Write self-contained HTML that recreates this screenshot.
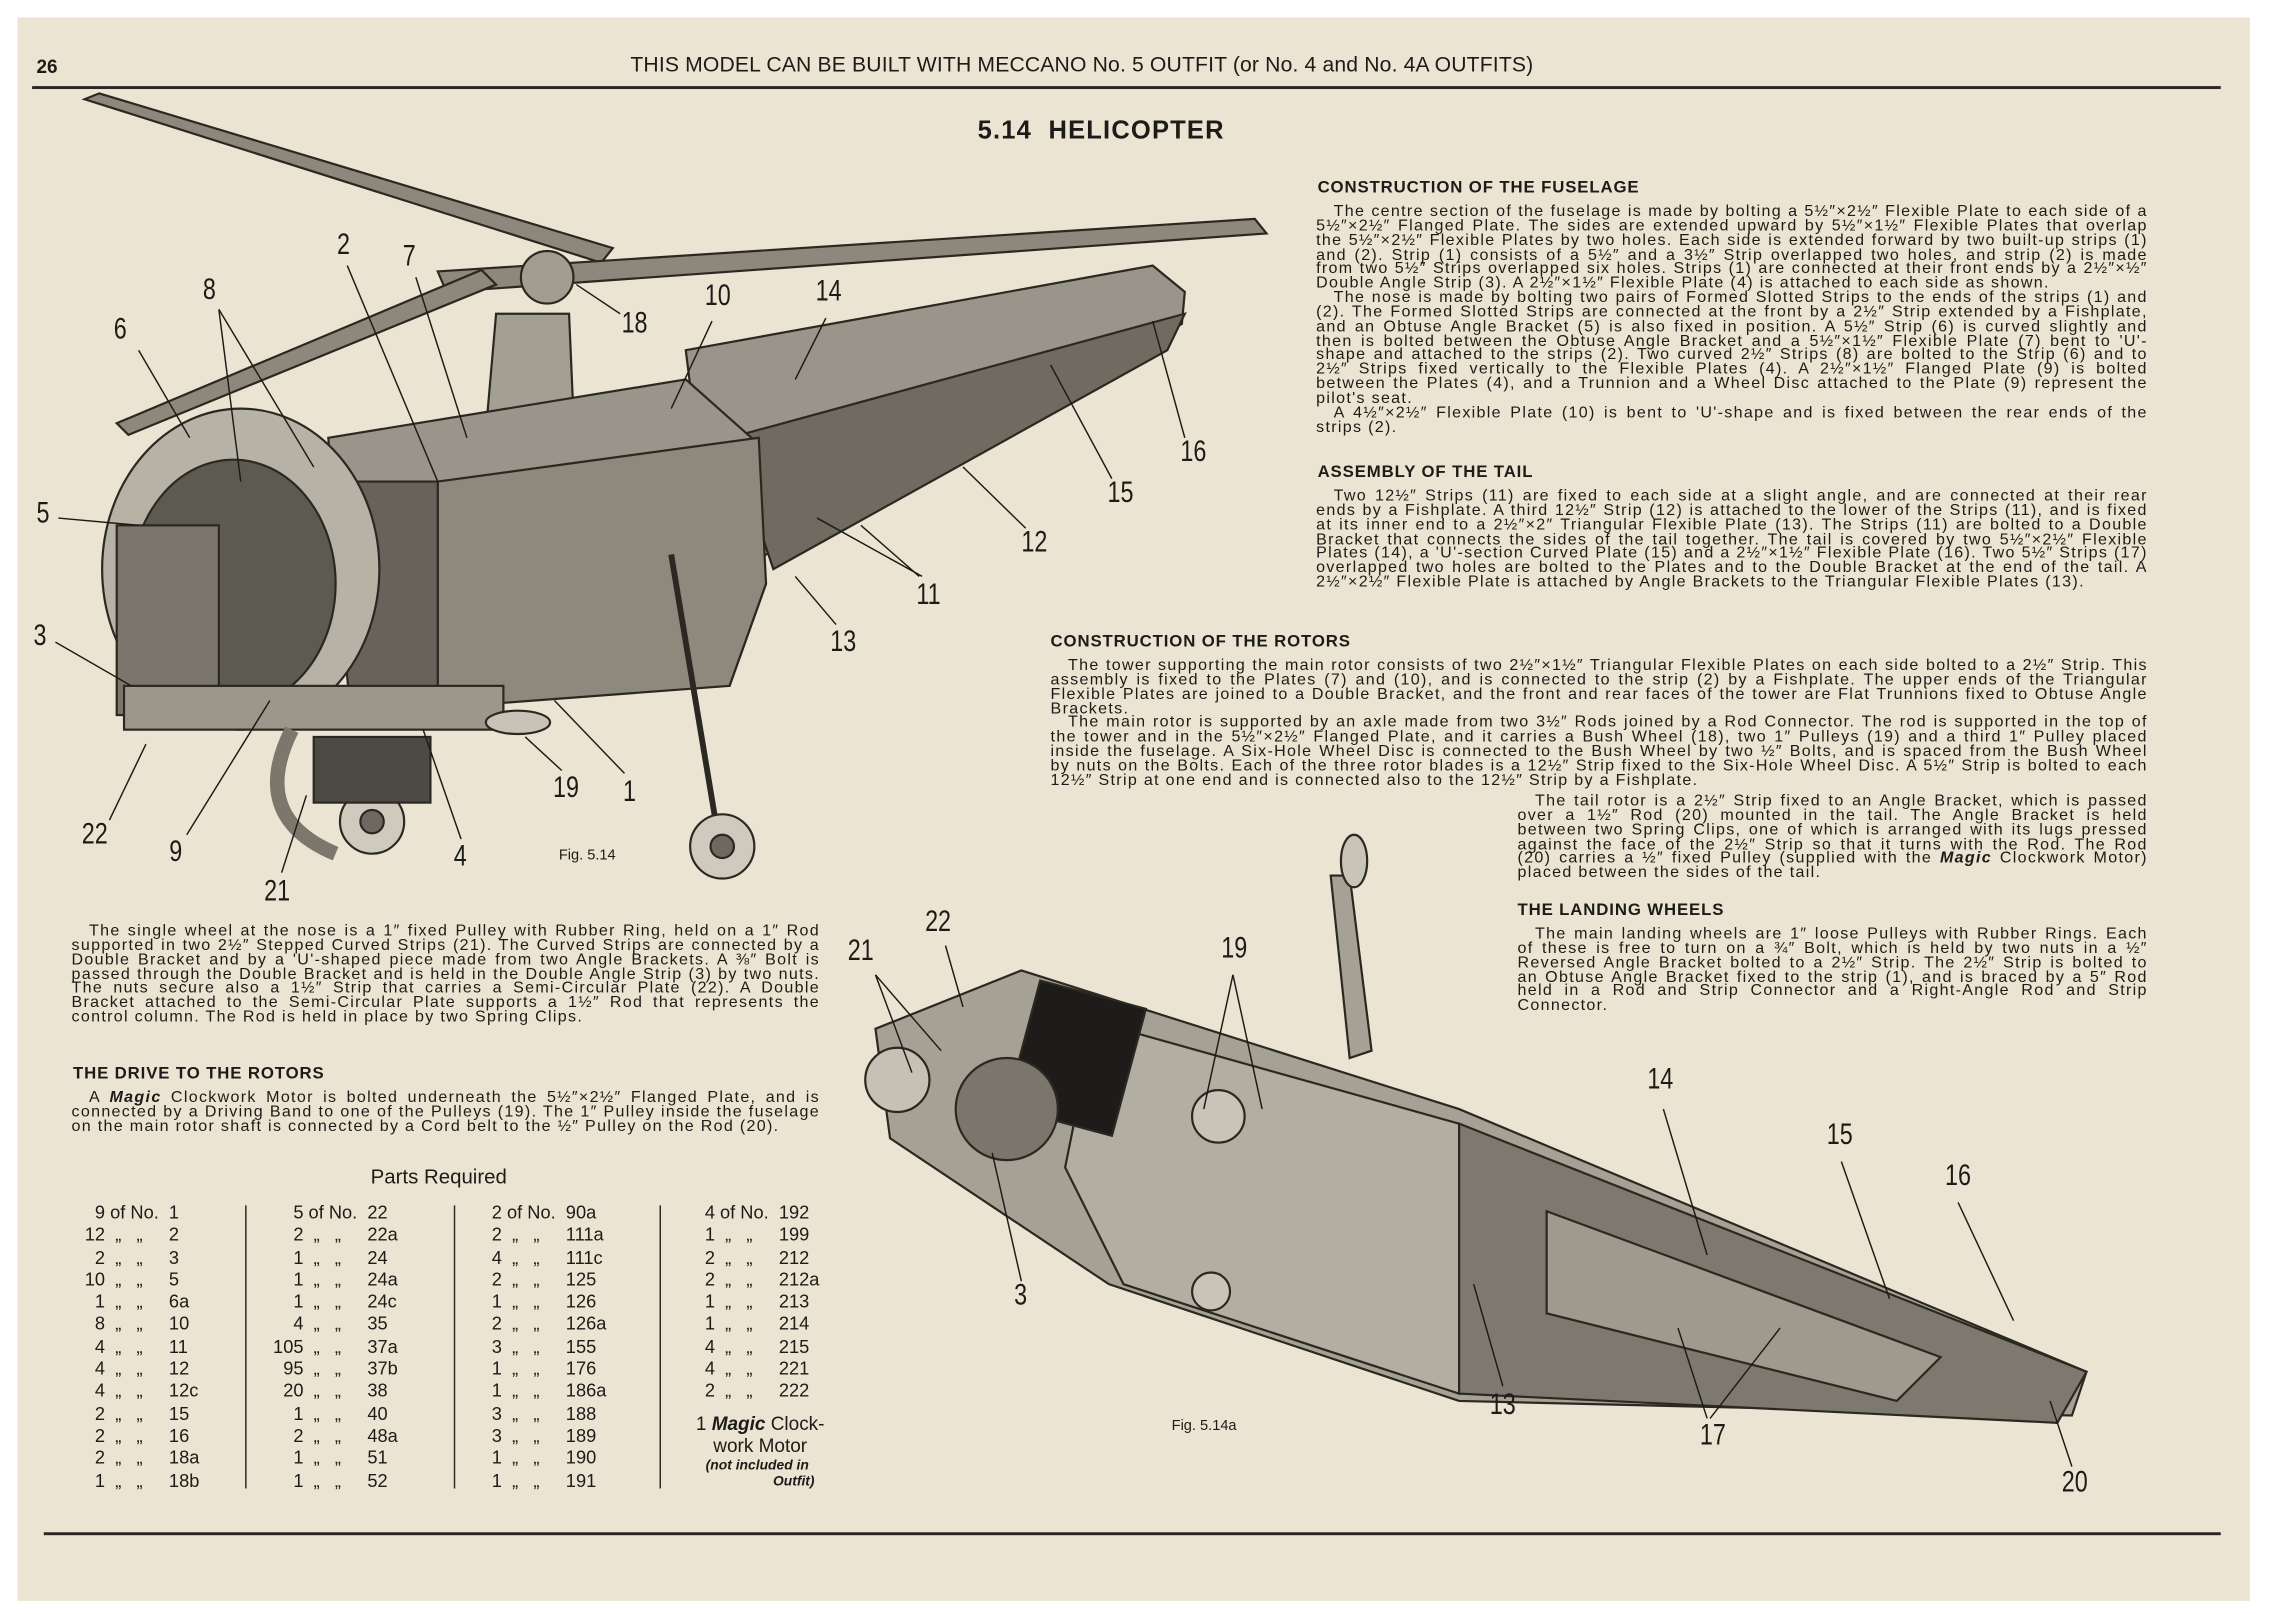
<!DOCTYPE html>
<html><head><meta charset="utf-8">
<style>
html,body{margin:0;padding:0;background:#fff;}
body{width:2282px;height:1614px;overflow:hidden;position:relative;}
#pg{position:absolute;left:0;top:0;width:1564px;height:1106px;transform:scale(1.4591,1.4593);transform-origin:0 0;font-family:"Liberation Sans",sans-serif;color:#1d1b18;}
#paper{position:absolute;left:12px;top:12px;width:1530px;height:1085px;background:#ebe4d2;}
.a{position:absolute;}
.p{position:absolute;font-size:11px;line-height:9.85px;text-align:justify;letter-spacing:0.9px;font-family:"Liberation Sans",sans-serif;}
.p p{margin:0;text-indent:12px;}
.h{position:absolute;font-weight:bold;font-size:11.5px;letter-spacing:0.6px;}
.n{position:absolute;font-size:20px;transform:scaleX(0.8);transform-origin:0 0;line-height:20px;}
table{border-collapse:collapse;font-size:12.5px;}
td{padding:0;height:15.3px;line-height:15.3px;white-space:nowrap;}
.col{position:absolute;top:824px;}
</style>
</head><body>
<div id="pg">
<div id="paper"></div>
<div class="a" style="left:25px;top:38px;font-size:13px;font-weight:bold;">26</div>
<div class="a" style="left:432px;top:37px;font-size:14.5px;letter-spacing:0.1px;">THIS MODEL CAN BE BUILT WITH MECCANO No. 5 OUTFIT (or No. 4 and No. 4A OUTFITS)</div>
<div class="a" style="left:22px;top:59px;width:1500px;height:2px;background:#2a2622;"></div>
<div class="a" style="left:30px;top:1050px;width:1492px;height:2px;background:#2a2622;"></div>
<div class="a" style="left:670px;top:79px;font-size:17.5px;font-weight:bold;letter-spacing:0.8px;">5.14&nbsp; HELICOPTER</div>

<svg class="a" style="left:0;top:0" width="1564" height="1106" viewBox="0 0 1564 1106">
<g stroke="#2b2822" stroke-width="1.5" fill="#8d887b">
<polygon points="58,68 68,64 420,170 412,180"/>
<polygon points="300,186 860,150 868,160 306,200"/>
<polygon points="88,298 80,290 330,185 340,195"/>
<circle cx="375" cy="190" r="18" fill="#a29d90"/>
<polygon points="470,240 790,182 812,200 810,222 560,360 490,400" fill="#9a958a"/>
<polygon points="500,300 812,215 800,240 530,390" fill="#6f6b61"/>
<polygon points="340,215 390,215 395,330 330,330" fill="#a49f93"/>
<polygon points="225,300 470,260 515,300 525,400 500,470 420,470 240,485" fill="#9a958a"/>
<polygon points="300,330 520,300 525,400 500,470 300,485" fill="#8e897d"/>
<polygon points="225,330 300,330 300,485 240,485" fill="#67635a"/>
<ellipse cx="165" cy="390" rx="95" ry="110" fill="#b7b2a6"/>
<ellipse cx="160" cy="400" rx="70" ry="85" fill="#5d5a52"/>
<rect x="80" y="360" width="70" height="130" fill="#7a766c"/>
<rect x="85" y="470" width="260" height="30" fill="#9c978b"/>
<line x1="460" y1="380" x2="490" y2="560" stroke-width="4"/>
<circle cx="495" cy="580" r="22" fill="#cfcabe"/>
<circle cx="495" cy="580" r="8" fill="#6d6960"/>
<circle cx="255" cy="563" r="22" fill="#cfcabe"/>
<circle cx="255" cy="563" r="8" fill="#6d6960"/>
<path d="M200,500 Q170,560 230,585" fill="none" stroke-width="10" stroke="#7b776d"/>
<ellipse cx="355" cy="495" rx="22" ry="8" fill="#c8c3b6"/>
<rect x="215" y="505" width="80" height="45" fill="#4d4a44"/>
</g>
<g stroke="#2b2822" stroke-width="1.5" fill="#8d887b">
<polygon points="600,705 700,665 1000,760 1430,940 1420,970 1000,960 760,880 610,780" fill="#a6a195"/>
<polygon points="750,700 1000,770 1000,955 770,880 730,800" style="fill:#b3aea2"/>
<polygon points="1000,770 1430,940 1410,975 1000,955" fill="#7d796f"/>
<polygon points="1060,830 1330,930 1300,960 1060,900" fill="#9f9a8e"/>
<rect x="700" y="680" width="75" height="90" fill="#1d1c1a" transform="rotate(15 737 725)"/>
<circle cx="835" cy="765" r="18" fill="#c9c4b8"/>
<circle cx="830" cy="885" r="13" fill="#c9c4b8"/>
<circle cx="615" cy="740" r="22" fill="#c6c1b5"/>
<circle cx="690" cy="760" r="35" fill="#7a766c"/>
<polygon points="912,600 925,600 940,720 925,725" fill="#a6a195"/>
<ellipse cx="928" cy="590" rx="9" ry="18" fill="#c9c4b8"/>
</g>
<g stroke="#1d1b18" stroke-width="1" fill="none">
<line x1="238" y1="182" x2="300" y2="330"/><line x1="285" y1="190" x2="320" y2="300"/>
<line x1="150" y1="212" x2="165" y2="330"/><line x1="150" y1="212" x2="215" y2="320"/>
<line x1="95" y1="240" x2="130" y2="300"/><line x1="425" y1="215" x2="395" y2="195"/>
<line x1="488" y1="220" x2="460" y2="280"/><line x1="566" y1="218" x2="545" y2="260"/>
<line x1="812" y1="300" x2="790" y2="220"/><line x1="762" y1="328" x2="720" y2="250"/>
<line x1="703" y1="362" x2="660" y2="320"/><line x1="630" y1="395" x2="590" y2="360"/>
<line x1="632" y1="395" x2="560" y2="355"/><line x1="573" y1="428" x2="545" y2="395"/>
<line x1="40" y1="355" x2="95" y2="360"/><line x1="38" y1="440" x2="90" y2="470"/>
<line x1="75" y1="562" x2="100" y2="510"/><line x1="128" y1="572" x2="185" y2="480"/>
<line x1="193" y1="598" x2="210" y2="545"/><line x1="316" y1="575" x2="290" y2="500"/>
<line x1="385" y1="528" x2="360" y2="505"/><line x1="428" y1="530" x2="380" y2="480"/>
<line x1="600" y1="668" x2="625" y2="735"/><line x1="600" y1="668" x2="645" y2="720"/>
<line x1="648" y1="648" x2="660" y2="690"/><line x1="845" y1="668" x2="825" y2="760"/>
<line x1="845" y1="668" x2="865" y2="760"/><line x1="1140" y1="760" x2="1170" y2="860"/>
<line x1="1262" y1="796" x2="1295" y2="890"/><line x1="1342" y1="824" x2="1380" y2="905"/>
<line x1="700" y1="878" x2="680" y2="790"/><line x1="1030" y1="950" x2="1010" y2="880"/>
<line x1="1170" y1="972" x2="1150" y2="910"/><line x1="1172" y1="972" x2="1220" y2="910"/>
<line x1="1420" y1="1005" x2="1405" y2="960"/>
</g>
</svg>

<div class="n" style="left:231px;top:158px">2</div><div class="n" style="left:276px;top:166px">7</div>
<div class="n" style="left:139px;top:189px">8</div><div class="n" style="left:78px;top:216px">6</div>
<div class="n" style="left:426px;top:212px">18</div><div class="n" style="left:483px;top:193px">10</div>
<div class="n" style="left:559px;top:190px">14</div><div class="n" style="left:809px;top:300px">16</div>
<div class="n" style="left:759px;top:328px">15</div><div class="n" style="left:700px;top:362px">12</div>
<div class="n" style="left:628px;top:398px">11</div><div class="n" style="left:569px;top:430px">13</div>
<div class="n" style="left:25px;top:342px">5</div><div class="n" style="left:23px;top:426px">3</div>
<div class="n" style="left:56px;top:562px">22</div><div class="n" style="left:116px;top:574px">9</div>
<div class="n" style="left:181px;top:601px">21</div><div class="n" style="left:311px;top:577px">4</div>
<div class="n" style="left:379px;top:530px">19</div><div class="n" style="left:427px;top:533px">1</div>
<div class="a" style="left:383px;top:581px;font-size:10px;">Fig. 5.14</div>
<div class="n" style="left:634px;top:622px">22</div><div class="n" style="left:581px;top:642px">21</div>
<div class="n" style="left:837px;top:640px">19</div><div class="n" style="left:1129px;top:730px">14</div>
<div class="n" style="left:1252px;top:768px">15</div><div class="n" style="left:1333px;top:796px">16</div>
<div class="n" style="left:695px;top:878px">3</div><div class="n" style="left:1021px;top:953px">13</div>
<div class="n" style="left:1165px;top:974px">17</div><div class="n" style="left:1413px;top:1006px">20</div>
<div class="a" style="left:803px;top:972px;font-size:10px;">Fig. 5.14a</div>

<div class="h" style="left:903px;top:123px">CONSTRUCTION OF THE FUSELAGE</div>
<div class="p" style="left:902px;top:141px;width:570px">
<p>The centre section of the fuselage is made by bolting a 5½″×2½″ Flexible Plate to each side of a 5½″×2½″ Flanged Plate. The sides are extended upward by 5½″×1½″ Flexible Plates that overlap the 5½″×2½″ Flexible Plates by two holes. Each side is extended forward by two built-up strips (1) and (2). Strip (1) consists of a 5½″ and a 3½″ Strip overlapped two holes, and strip (2) is made from two 5½″ Strips overlapped six holes. Strips (1) are connected at their front ends by a 2½″×½″ Double Angle Strip (3). A 2½″×1½″ Flexible Plate (4) is attached to each side as shown.</p>
<p>The nose is made by bolting two pairs of Formed Slotted Strips to the ends of the strips (1) and (2). The Formed Slotted Strips are connected at the front by a 2½″ Strip extended by a Fishplate, and an Obtuse Angle Bracket (5) is also fixed in position. A 5½″ Strip (6) is curved slightly and then is bolted between the Obtuse Angle Bracket and a 5½″×1½″ Flexible Plate (7) bent to 'U'-shape and attached to the strips (2). Two curved 2½″ Strips (8) are bolted to the Strip (6) and to 2½″ Strips fixed vertically to the Flexible Plates (4). A 2½″×1½″ Flanged Plate (9) is bolted between the Plates (4), and a Trunnion and a Wheel Disc attached to the Plate (9) represent the pilot's seat.</p>
<p>A 4½″×2½″ Flexible Plate (10) is bent to 'U'-shape and is fixed between the rear ends of the strips (2).</p></div>

<div class="h" style="left:903px;top:318px">ASSEMBLY OF THE TAIL</div>
<div class="p" style="left:902px;top:336px;width:570px">
<p>Two 12½″ Strips (11) are fixed to each side at a slight angle, and are connected at their rear ends by a Fishplate. A third 12½″ Strip (12) is attached to the lower of the Strips (11), and is fixed at its inner end to a 2½″×2″ Triangular Flexible Plate (13). The Strips (11) are bolted to a Double Bracket that connects the sides of the tail together. The tail is covered by two 5½″×2½″ Flexible Plates (14), a 'U'-section Curved Plate (15) and a 2½″×1½″ Flexible Plate (16). Two 5½″ Strips (17) overlapped two holes are bolted to the Plates and to the Double Bracket at the end of the tail. A 2½″×2½″ Flexible Plate is attached by Angle Brackets to the Triangular Flexible Plates (13).</p></div>

<div class="h" style="left:720px;top:434px">CONSTRUCTION OF THE ROTORS</div>
<div class="p" style="left:720px;top:452px;width:752px">
<p>The tower supporting the main rotor consists of two 2½″×1½″ Triangular Flexible Plates on each side bolted to a 2½″ Strip. This assembly is fixed to the Plates (7) and (10), and is connected to the strip (2) by a Fishplate. The upper ends of the Triangular Flexible Plates are joined to a Double Bracket, and the front and rear faces of the tower are Flat Trunnions fixed to Obtuse Angle Brackets.</p>
<p>The main rotor is supported by an axle made from two 3½″ Rods joined by a Rod Connector. The rod is supported in the top of the tower and in the 5½″×2½″ Flanged Plate, and it carries a Bush Wheel (18), two 1″ Pulleys (19) and a third 1″ Pulley placed inside the fuselage. A Six-Hole Wheel Disc is connected to the Bush Wheel by two ½″ Bolts, and is spaced from the Bush Wheel by nuts on the Bolts. Each of the three rotor blades is a 12½″ Strip fixed to the Six-Hole Wheel Disc. A 5½″ Strip is bolted to each 12½″ Strip at one end and is connected also to the 12½″ Strip by a Fishplate.</p></div>
<div class="p" style="left:1040px;top:545px;width:432px">
<p>The tail rotor is a 2½″ Strip fixed to an Angle Bracket, which is passed over a 1½″ Rod (20) mounted in the tail. The Angle Bracket is held between two Spring Clips, one of which is arranged with its lugs pressed against the face of the 2½″ Strip so that it turns with the Rod. The Rod (20) carries a ½″ fixed Pulley (supplied with the <b><i>Magic</i></b> Clockwork Motor) placed between the sides of the tail.</p></div>

<div class="h" style="left:1040px;top:618px">THE LANDING WHEELS</div>
<div class="p" style="left:1040px;top:636px;width:432px">
<p>The main landing wheels are 1″ loose Pulleys with Rubber Rings. Each of these is free to turn on a ¾″ Bolt, which is held by two nuts in a ½″ Reversed Angle Bracket bolted to a 2½″ Strip. The 2½″ Strip is bolted to an Obtuse Angle Bracket fixed to the strip (1), and is braced by a 5″ Rod held in a Rod and Strip Connector and a Right-Angle Rod and Strip Connector.</p></div>

<div class="p" style="left:49px;top:634px;width:513px">
<p>The single wheel at the nose is a 1″ fixed Pulley with Rubber Ring, held on a 1″ Rod supported in two 2½″ Stepped Curved Strips (21). The Curved Strips are connected by a Double Bracket and by a 'U'-shaped piece made from two Angle Brackets. A ⅜″ Bolt is passed through the Double Bracket and is held in the Double Angle Strip (3) by two nuts. The nuts secure also a 1½″ Strip that carries a Semi-Circular Plate (22). A Double Bracket attached to the Semi-Circular Plate supports a 1½″ Rod that represents the control column. The Rod is held in place by two Spring Clips.</p></div>

<div class="h" style="left:50px;top:730px">THE DRIVE TO THE ROTORS</div>
<div class="p" style="left:49px;top:748px;width:513px">
<p>A <b><i>Magic</i></b> Clockwork Motor is bolted underneath the 5½″×2½″ Flanged Plate, and is connected by a Driving Band to one of the Pulleys (19). The 1″ Pulley inside the fuselage on the main rotor shaft is connected by a Cord belt to the ½″ Pulley on the Rod (20).</p></div>

<div class="a" style="left:254px;top:798px;font-size:14px;">Parts Required</div>
<div class="a" style="left:168px;top:826px;width:1px;height:194px;background:#2a2622"></div>
<div class="a" style="left:311px;top:826px;width:1px;height:194px;background:#2a2622"></div>
<div class="a" style="left:452px;top:826px;width:1px;height:194px;background:#2a2622"></div>
<div class="col" style="left:52px"><table>
<tr><td style="width:20px;text-align:right">9</td><td>&nbsp;of No.&nbsp;&nbsp;</td><td>1</td></tr>
<tr><td style="text-align:right">12</td><td>&nbsp;&nbsp;„&nbsp;&nbsp;&nbsp;„</td><td>2</td></tr>
<tr><td style="text-align:right">2</td><td>&nbsp;&nbsp;„&nbsp;&nbsp;&nbsp;„</td><td>3</td></tr>
<tr><td style="text-align:right">10</td><td>&nbsp;&nbsp;„&nbsp;&nbsp;&nbsp;„</td><td>5</td></tr>
<tr><td style="text-align:right">1</td><td>&nbsp;&nbsp;„&nbsp;&nbsp;&nbsp;„</td><td>6a</td></tr>
<tr><td style="text-align:right">8</td><td>&nbsp;&nbsp;„&nbsp;&nbsp;&nbsp;„</td><td>10</td></tr>
<tr><td style="text-align:right">4</td><td>&nbsp;&nbsp;„&nbsp;&nbsp;&nbsp;„</td><td>11</td></tr>
<tr><td style="text-align:right">4</td><td>&nbsp;&nbsp;„&nbsp;&nbsp;&nbsp;„</td><td>12</td></tr>
<tr><td style="text-align:right">4</td><td>&nbsp;&nbsp;„&nbsp;&nbsp;&nbsp;„</td><td>12c</td></tr>
<tr><td style="text-align:right">2</td><td>&nbsp;&nbsp;„&nbsp;&nbsp;&nbsp;„</td><td>15</td></tr>
<tr><td style="text-align:right">2</td><td>&nbsp;&nbsp;„&nbsp;&nbsp;&nbsp;„</td><td>16</td></tr>
<tr><td style="text-align:right">2</td><td>&nbsp;&nbsp;„&nbsp;&nbsp;&nbsp;„</td><td>18a</td></tr>
<tr><td style="text-align:right">1</td><td>&nbsp;&nbsp;„&nbsp;&nbsp;&nbsp;„</td><td>18b</td></tr></table></div>
<div class="col" style="left:182px"><table>
<tr><td style="width:26px;text-align:right">5</td><td>&nbsp;of No.&nbsp;&nbsp;</td><td>22</td></tr>
<tr><td style="text-align:right">2</td><td>&nbsp;&nbsp;„&nbsp;&nbsp;&nbsp;„</td><td>22a</td></tr>
<tr><td style="text-align:right">1</td><td>&nbsp;&nbsp;„&nbsp;&nbsp;&nbsp;„</td><td>24</td></tr>
<tr><td style="text-align:right">1</td><td>&nbsp;&nbsp;„&nbsp;&nbsp;&nbsp;„</td><td>24a</td></tr>
<tr><td style="text-align:right">1</td><td>&nbsp;&nbsp;„&nbsp;&nbsp;&nbsp;„</td><td>24c</td></tr>
<tr><td style="text-align:right">4</td><td>&nbsp;&nbsp;„&nbsp;&nbsp;&nbsp;„</td><td>35</td></tr>
<tr><td style="text-align:right">105</td><td>&nbsp;&nbsp;„&nbsp;&nbsp;&nbsp;„</td><td>37a</td></tr>
<tr><td style="text-align:right">95</td><td>&nbsp;&nbsp;„&nbsp;&nbsp;&nbsp;„</td><td>37b</td></tr>
<tr><td style="text-align:right">20</td><td>&nbsp;&nbsp;„&nbsp;&nbsp;&nbsp;„</td><td>38</td></tr>
<tr><td style="text-align:right">1</td><td>&nbsp;&nbsp;„&nbsp;&nbsp;&nbsp;„</td><td>40</td></tr>
<tr><td style="text-align:right">2</td><td>&nbsp;&nbsp;„&nbsp;&nbsp;&nbsp;„</td><td>48a</td></tr>
<tr><td style="text-align:right">1</td><td>&nbsp;&nbsp;„&nbsp;&nbsp;&nbsp;„</td><td>51</td></tr>
<tr><td style="text-align:right">1</td><td>&nbsp;&nbsp;„&nbsp;&nbsp;&nbsp;„</td><td>52</td></tr></table></div>
<div class="col" style="left:330px"><table>
<tr><td style="width:14px;text-align:right">2</td><td>&nbsp;of No.&nbsp;&nbsp;</td><td>90a</td></tr>
<tr><td style="text-align:right">2</td><td>&nbsp;&nbsp;„&nbsp;&nbsp;&nbsp;„</td><td>111a</td></tr>
<tr><td style="text-align:right">4</td><td>&nbsp;&nbsp;„&nbsp;&nbsp;&nbsp;„</td><td>111c</td></tr>
<tr><td style="text-align:right">2</td><td>&nbsp;&nbsp;„&nbsp;&nbsp;&nbsp;„</td><td>125</td></tr>
<tr><td style="text-align:right">1</td><td>&nbsp;&nbsp;„&nbsp;&nbsp;&nbsp;„</td><td>126</td></tr>
<tr><td style="text-align:right">2</td><td>&nbsp;&nbsp;„&nbsp;&nbsp;&nbsp;„</td><td>126a</td></tr>
<tr><td style="text-align:right">3</td><td>&nbsp;&nbsp;„&nbsp;&nbsp;&nbsp;„</td><td>155</td></tr>
<tr><td style="text-align:right">1</td><td>&nbsp;&nbsp;„&nbsp;&nbsp;&nbsp;„</td><td>176</td></tr>
<tr><td style="text-align:right">1</td><td>&nbsp;&nbsp;„&nbsp;&nbsp;&nbsp;„</td><td>186a</td></tr>
<tr><td style="text-align:right">3</td><td>&nbsp;&nbsp;„&nbsp;&nbsp;&nbsp;„</td><td>188</td></tr>
<tr><td style="text-align:right">3</td><td>&nbsp;&nbsp;„&nbsp;&nbsp;&nbsp;„</td><td>189</td></tr>
<tr><td style="text-align:right">1</td><td>&nbsp;&nbsp;„&nbsp;&nbsp;&nbsp;„</td><td>190</td></tr>
<tr><td style="text-align:right">1</td><td>&nbsp;&nbsp;„&nbsp;&nbsp;&nbsp;„</td><td>191</td></tr></table></div>
<div class="col" style="left:476px"><table>
<tr><td style="width:14px;text-align:right">4</td><td>&nbsp;of No.&nbsp;&nbsp;</td><td>192</td></tr>
<tr><td style="text-align:right">1</td><td>&nbsp;&nbsp;„&nbsp;&nbsp;&nbsp;„</td><td>199</td></tr>
<tr><td style="text-align:right">2</td><td>&nbsp;&nbsp;„&nbsp;&nbsp;&nbsp;„</td><td>212</td></tr>
<tr><td style="text-align:right">2</td><td>&nbsp;&nbsp;„&nbsp;&nbsp;&nbsp;„</td><td>212a</td></tr>
<tr><td style="text-align:right">1</td><td>&nbsp;&nbsp;„&nbsp;&nbsp;&nbsp;„</td><td>213</td></tr>
<tr><td style="text-align:right">1</td><td>&nbsp;&nbsp;„&nbsp;&nbsp;&nbsp;„</td><td>214</td></tr>
<tr><td style="text-align:right">4</td><td>&nbsp;&nbsp;„&nbsp;&nbsp;&nbsp;„</td><td>215</td></tr>
<tr><td style="text-align:right">4</td><td>&nbsp;&nbsp;„&nbsp;&nbsp;&nbsp;„</td><td>221</td></tr>
<tr><td style="text-align:right">2</td><td>&nbsp;&nbsp;„&nbsp;&nbsp;&nbsp;„</td><td>222</td></tr></table></div>
<div class="a" style="left:466px;top:968px;width:110px;font-size:13px;line-height:15px;text-align:center;">1 <b><i>Magic</i></b> Clock-<br>work Motor</div>
<div class="a" style="left:466px;top:999px;width:106px;font-size:9.5px;line-height:11px;text-align:center;font-style:italic;font-weight:bold;">(not included in<br><span style="padding-left:50px">Outfit)</span></div>
</div>
</body></html>
